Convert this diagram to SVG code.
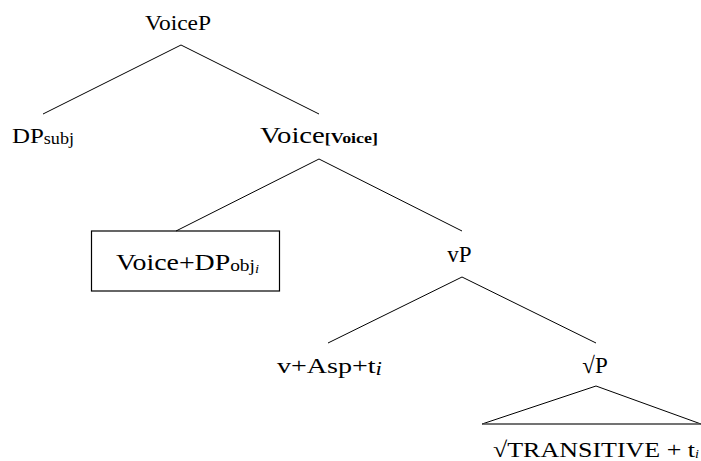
<svg xmlns="http://www.w3.org/2000/svg" width="701" height="461" viewBox="0 0 701 461">
<style>
text{font-family:'Liberation Serif','DejaVu Serif',serif;font-size:22px;fill:#000}
.sub{font-size:16px}
.ss{font-size:12px;font-style:italic}
.it{font-style:italic;font-size:18px}
.bf{font-weight:bold;font-size:15px}
.e{stroke:#000;stroke-width:1;fill:none}
</style>
<rect width="701" height="461" fill="#fff"/>
<g id="connectors">
<line class="e" x1="181" y1="45" x2="43" y2="114"/>
<line class="e" x1="181" y1="45" x2="319" y2="114"/>
<line class="e" x1="319" y1="159" x2="176" y2="231"/>
<line class="e" x1="319" y1="159" x2="462" y2="231"/>
<line class="e" x1="462" y1="277" x2="328" y2="343"/>
<line class="e" x1="462" y1="277" x2="596" y2="343"/>
<polyline class="e" points="482,424 596,386 701,424"/>
<line x1="482" y1="424" x2="701" y2="424" stroke="#444" stroke-width="1.6"/>
</g>
<g id="n-voicep"><text x="145" y="30" textLength="66" lengthAdjust="spacingAndGlyphs">VoiceP</text></g>
<g id="n-dpsubj"><text x="12" y="143" textLength="62" lengthAdjust="spacingAndGlyphs">DP<tspan class="sub" dy="1">subj</tspan></text></g>
<g id="n-voicebar"><text x="260" y="143" style="font-size:24px" textLength="118" lengthAdjust="spacingAndGlyphs">Voice<tspan class="bf">[Voice]</tspan></text></g>
<g id="n-box">
<rect x="91.5" y="231" width="188" height="60" fill="none" stroke="#000" stroke-width="1.2"/>
<text x="116" y="270" style="font-size:23px" textLength="143" lengthAdjust="spacingAndGlyphs">Voice+DP<tspan class="sub" dy="1">obj</tspan><tspan class="ss" dy="2">i</tspan></text>
</g>
<g id="n-vp"><text x="459.5" y="262" style="font-size:23px" text-anchor="middle">vP</text></g>
<g id="n-vasp"><text x="277" y="373" textLength="105" lengthAdjust="spacingAndGlyphs">v+Asp+t<tspan class="it" dy="2">i</tspan></text></g>
<g id="n-rootp"><text x="595" y="373" style="font-size:23px" text-anchor="middle">√P</text></g>
<g id="n-term"><text x="493" y="457" textLength="206" lengthAdjust="spacingAndGlyphs">√TRANSITIVE + t<tspan class="ss" dy="1">i</tspan></text></g>
</svg>
